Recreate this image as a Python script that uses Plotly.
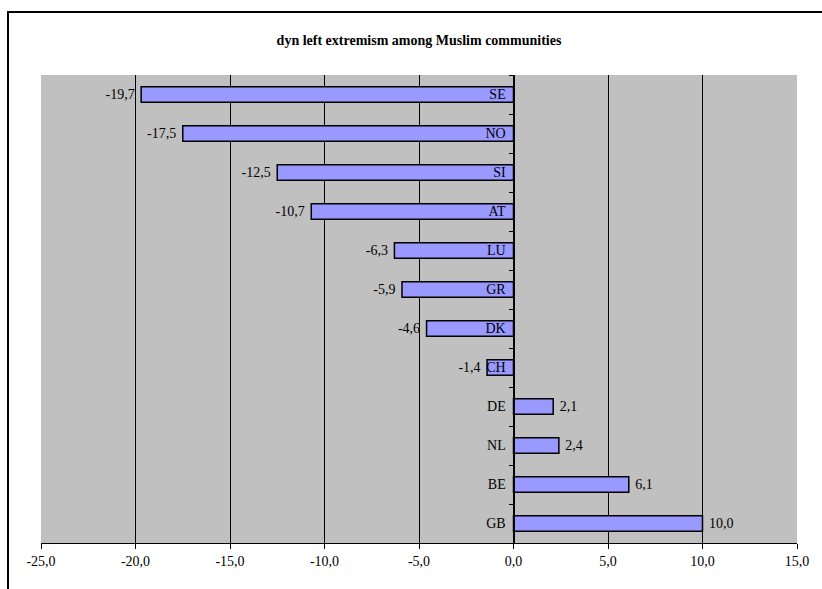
import plotly.graph_objects as go

# Country codes, top to bottom
countries = ["SE", "NO", "SI", "AT", "LU", "GR", "DK", "CH", "DE", "NL", "BE", "GB"]
# Change in left extremism
values = [-19.7, -17.5, -12.5, -10.7, -6.3, -5.9, -4.6, -1.4, 2.1, 2.4, 6.1, 10.0]

x_ticks = [-25, -20, -15, -10, -5, 0, 5, 10, 15]
x_tick_labels = ["-25,0", "-20,0", "-15,0", "-10,0", "-5,0", "0,0", "5,0", "10,0", "15,0"]
x_min, x_max = -25, 15

NBSP = "\u00a0"


def fmt(v):
    s = f"{v:.1f}".replace(".", ",")
    # small gap between the bar end and its label
    return s + NBSP if v < 0 else NBSP + s


serif = "Liberation Serif"

fig = go.Figure(
    go.Bar(
        x=values,
        y=countries,
        orientation="h",
        marker=dict(color="#9999FF", line=dict(color="black", width=1.5)),
        text=[fmt(v) for v in values],
        textposition="outside",
        textfont=dict(family=serif, size=14, color="black"),
        constraintext="none",
        cliponaxis=False,
        hoverinfo="skip",
    )
)

# y axis sits at x = 0 inside the plot
zero_pos = (0 - x_min) / (x_max - x_min)

fig.update_layout(
    width=822,
    height=589,
    margin=dict(l=41, r=25, t=75, b=46),
    paper_bgcolor="white",
    plot_bgcolor="#C0C0C0",
    bargap=0.6,
    showlegend=False,
    font=dict(family=serif, size=14, color="black"),
    title=dict(
        text="<b>dyn left extremism among Muslim communities</b>",
        font=dict(family=serif, size=14, color="black"),
        x=0.5,
        xref="paper",
        xanchor="center",
        y=1 - 40 / 589,
        yanchor="middle",
    ),
    xaxis=dict(
        range=[x_min, x_max],
        tickmode="array",
        tickvals=x_ticks,
        ticktext=x_tick_labels,
        ticks="outside",
        ticklen=5,
        tickcolor="black",
        showline=True,
        linecolor="black",
        linewidth=1,
        showgrid=False,
        zeroline=False,
        minor=dict(
            tickmode="array",
            tickvals=x_ticks[1:-1],
            showgrid=True,
            gridcolor="black",
            gridwidth=1,
            ticks="",
        ),
        tickfont=dict(family=serif, size=14, color="black"),
    ),
    yaxis=dict(
        categoryorder="array",
        categoryarray=countries[::-1],
        anchor="free",
        position=zero_pos,
        showline=True,
        linecolor="black",
        linewidth=1,
        ticks="outside",
        tickson="boundaries",
        ticklen=5,
        tickcolor="black",
        ticklabelstandoff=5,
        showgrid=False,
        zeroline=False,
        tickfont=dict(family=serif, size=14, color="black"),
    ),
)

# Outer chart frame
fig.add_shape(
    type="rect",
    xref="paper",
    yref="paper",
    x0=(8 - 41) / 756,
    x1=(840 - 41) / 756,
    y0=(543 - 620) / 468,
    y1=(543 - 12) / 468,
    line=dict(color="black", width=2),
    fillcolor="rgba(0,0,0,0)",
    layer="below",
)

fig.write_html("out.html")
